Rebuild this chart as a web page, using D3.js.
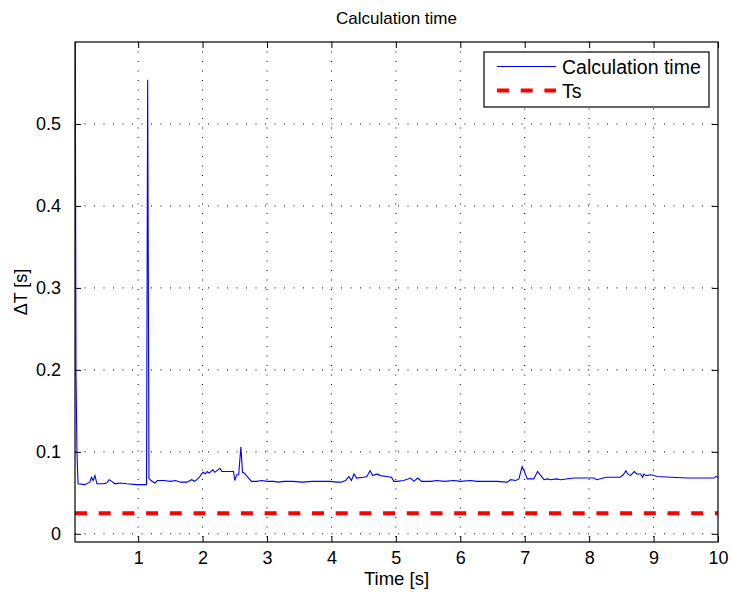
<!DOCTYPE html>
<html>
<head>
<meta charset="utf-8">
<script src="https://cdn.jsdelivr.net/npm/d3@7"></script>
<style>
  body { margin: 0; background: #fff; }
  text { font-family: "Liberation Sans", Arial, sans-serif; fill: #000; }
</style>
</head>
<body>
<div id="vis"></div>
<script>
// frame constants
const FRAME_WIDTH = 731;
const FRAME_HEIGHT = 598;
const MARGINS = {left: 75, right: 13, top: 42, bottom: 56};
const VIS_WIDTH = FRAME_WIDTH - MARGINS.left - MARGINS.right;
const VIS_HEIGHT = FRAME_HEIGHT - MARGINS.top - MARGINS.bottom;

// data
const TIME = [0.02, 0.035, 0.05, 0.067, 0.17, 0.25, 0.275, 0.3, 0.33, 0.36, 0.46, 0.51, 0.55, 0.59, 0.64, 0.72, 0.82, 0.975, 1.1, 1.13,
  1.148, 1.168, 1.2, 1.26, 1.3, 1.4, 1.5, 1.58, 1.66, 1.76, 1.83, 1.88, 1.95, 1.985, 2.01, 2.04, 2.07, 2.1, 2.16, 2.19,
  2.27, 2.3, 2.48, 2.5, 2.53, 2.56, 2.595, 2.62, 2.65, 2.68, 2.76, 2.84, 2.92, 3.0, 3.1, 3.18, 3.26, 3.4, 3.55, 3.7,
  3.85, 3.98, 4.09, 4.15, 4.22, 4.27, 4.31, 4.35, 4.39, 4.5, 4.55, 4.6, 4.64, 4.71, 4.76, 4.86, 4.93, 4.97, 5.02, 5.12,
  5.23, 5.28, 5.34, 5.4, 5.54, 5.64, 5.75, 5.9, 6.0, 6.16, 6.26, 6.41, 6.57, 6.73, 6.78, 6.86, 6.91, 6.96, 6.99, 7.04,
  7.14, 7.2, 7.25, 7.3, 7.35, 7.4, 7.49, 7.56, 7.76, 7.97, 8.07, 8.12, 8.22, 8.27, 8.48, 8.53, 8.57, 8.6, 8.64, 8.7,
  8.74, 8.8, 8.83, 8.85, 8.89, 8.96, 9.06, 9.27, 9.53, 9.73, 9.94, 9.97, 10.0];
const CALC_TIME = [0.75, 0.2, 0.1, 0.061, 0.060, 0.063, 0.069, 0.065, 0.071, 0.061, 0.061, 0.062, 0.066, 0.064, 0.061, 0.062, 0.061, 0.060, 0.060, 0.060,
  0.554, 0.068, 0.065, 0.062, 0.065, 0.065, 0.064, 0.065, 0.063, 0.063, 0.066, 0.064, 0.069, 0.073, 0.075, 0.073, 0.076, 0.074, 0.078, 0.075,
  0.080, 0.076, 0.076, 0.065, 0.072, 0.072, 0.106, 0.075, 0.074, 0.071, 0.064, 0.064, 0.065, 0.064, 0.064, 0.063, 0.064, 0.064, 0.063, 0.064,
  0.064, 0.064, 0.063, 0.063, 0.065, 0.070, 0.065, 0.073, 0.068, 0.069, 0.070, 0.077, 0.071, 0.073, 0.071, 0.070, 0.069, 0.064, 0.064, 0.065,
  0.068, 0.064, 0.068, 0.064, 0.064, 0.065, 0.064, 0.065, 0.064, 0.065, 0.064, 0.064, 0.064, 0.063, 0.066, 0.065, 0.067, 0.082, 0.077, 0.067,
  0.067, 0.076, 0.071, 0.066, 0.067, 0.066, 0.067, 0.066, 0.068, 0.068, 0.068, 0.066, 0.068, 0.069, 0.069, 0.072, 0.077, 0.073, 0.071, 0.076,
  0.073, 0.073, 0.069, 0.073, 0.071, 0.072, 0.070, 0.069, 0.068, 0.068, 0.068, 0.070, 0.069];
const TS = 0.025;
const X_TICKS = [1, 2, 3, 4, 5, 6, 7, 8, 9, 10];
const Y_TICKS = [0, 0.1, 0.2, 0.3, 0.4, 0.5];
const LEGEND_LABELS = ["Calculation time", "Ts"];

const data = TIME.map((t, i) => ({t: t, v: CALC_TIME[i]}));

const FRAME = d3.select("#vis")
  .append("svg")
    .attr("width", FRAME_WIDTH)
    .attr("height", FRAME_HEIGHT);

const X_SCALE = d3.scaleLinear().domain([0.02, 10]).range([0, VIS_WIDTH]);
const Y_SCALE = d3.scaleLinear().domain([-0.01, 0.6]).range([VIS_HEIGHT, 0]);

const plot = FRAME.append("g")
  .attr("transform", "translate(" + MARGINS.left + "," + MARGINS.top + ")");

plot.append("clipPath").attr("id", "clip")
  .append("rect").attr("width", VIS_WIDTH).attr("height", VIS_HEIGHT);

// dotted grid
plot.append("g").selectAll("line.vg")
  .data(X_TICKS.slice(0, -1)).enter().append("line")
    .attr("x1", (d) => X_SCALE(d)).attr("x2", (d) => X_SCALE(d))
    .attr("y1", 0).attr("y2", VIS_HEIGHT)
    .attr("stroke", "#000").attr("stroke-width", 1)
    .attr("stroke-dasharray", "1,8.5");
plot.append("g").selectAll("line.hg")
  .data(Y_TICKS).enter().append("line")
    .attr("x1", 0).attr("x2", VIS_WIDTH)
    .attr("y1", (d) => Y_SCALE(d)).attr("y2", (d) => Y_SCALE(d))
    .attr("stroke", "#000").attr("stroke-width", 1)
    .attr("stroke-dasharray", "1,8.5");

// Ts line
plot.append("line")
  .attr("x1", 0).attr("x2", VIS_WIDTH)
  .attr("y1", Y_SCALE(TS)).attr("y2", Y_SCALE(TS))
  .attr("stroke", "#ff0000").attr("stroke-width", 4)
  .attr("stroke-dasharray", "12,11.7");

// calculation time line
plot.append("path")
  .datum(data)
  .attr("clip-path", "url(#clip)")
  .attr("fill", "none")
  .attr("stroke", "#0000ff")
  .attr("stroke-width", 1.1)
  .attr("d", d3.line().x((d) => X_SCALE(d.t)).y((d) => Y_SCALE(d.v)));

// axes (matlab style box with inward ticks)
const fmt = d3.format("");
plot.append("g")
  .attr("transform", "translate(0," + VIS_HEIGHT + ")")
  .call(d3.axisBottom(X_SCALE).tickValues(X_TICKS).tickFormat(fmt).tickSizeInner(-6).tickSizeOuter(0).tickPadding(9))
  .attr("font-size", "18px");
plot.append("g")
  .call(d3.axisTop(X_SCALE).tickValues(X_TICKS).tickFormat("").tickSizeInner(-6).tickSizeOuter(0));
plot.append("g")
  .call(d3.axisLeft(Y_SCALE).tickValues(Y_TICKS).tickFormat(fmt).tickSizeInner(-6).tickSizeOuter(0).tickPadding(14))
  .attr("font-size", "18px");
plot.append("g")
  .attr("transform", "translate(" + VIS_WIDTH + ",0)")
  .call(d3.axisRight(Y_SCALE).tickValues(Y_TICKS).tickFormat("").tickSizeInner(-6).tickSizeOuter(0));
plot.selectAll(".domain").remove();
plot.selectAll(".tick line").attr("stroke", "#000");
plot.selectAll(".tick text").attr("fill", "#000").attr("font-family", "Liberation Sans, Arial, sans-serif");

plot.append("rect")
  .attr("width", VIS_WIDTH).attr("height", VIS_HEIGHT)
  .attr("fill", "none").attr("stroke", "#000").attr("stroke-width", 1.2);

// titles
FRAME.append("text")
  .attr("x", MARGINS.left + VIS_WIDTH / 2).attr("y", 24)
  .attr("text-anchor", "middle").attr("font-size", "17px")
  .text("Calculation time");
FRAME.append("text")
  .attr("x", MARGINS.left + VIS_WIDTH / 2).attr("y", 585)
  .attr("text-anchor", "middle").attr("font-size", "18.5px")
  .text("Time [s]");
FRAME.append("text")
  .attr("transform", "translate(27," + (MARGINS.top + VIS_HEIGHT / 2) + ") rotate(-90)")
  .attr("text-anchor", "middle").attr("font-size", "18px")
  .text("\u0394T [s]");

// legend
const legend = FRAME.append("g").attr("transform", "translate(484,52)");
legend.append("rect")
  .attr("width", 225).attr("height", 55)
  .attr("fill", "#fff").attr("stroke", "#000").attr("stroke-width", 1.2);
const LEG_STYLE = [{c: "#0000ff", w: 1.1, dash: null}, {c: "#ff0000", w: 4, dash: "12,11.7"}];
LEGEND_LABELS.forEach((lab, i) => {
  const y = 14.5 + i * 24;
  legend.append("line")
    .attr("x1", 13).attr("x2", 72).attr("y1", y).attr("y2", y)
    .attr("stroke", LEG_STYLE[i].c).attr("stroke-width", LEG_STYLE[i].w)
    .attr("stroke-dasharray", LEG_STYLE[i].dash);
  legend.append("text")
    .attr("x", 78).attr("y", y + 7)
    .attr("font-size", "19.5px")
    .text(lab);
});
</script>
</body>
</html>
